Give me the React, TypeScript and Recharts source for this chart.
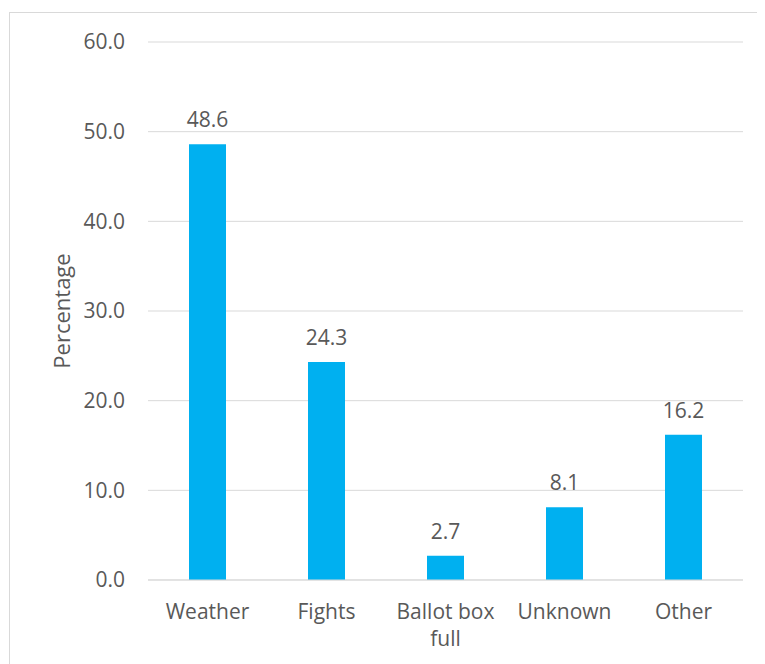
import React from "react";
import { BarChart, Bar, XAxis, YAxis, CartesianGrid, LabelList } from "recharts";

const categories = ["Weather", "Fights", "Ballot box full", "Unknown", "Other"];
const percentages = [48.6, 24.3, 2.7, 8.1, 16.2];
const yTicks = [0, 10, 20, 30, 40, 50, 60];

const tickLines: Record<string, string[]> = {
  "Ballot box full": ["Ballot box", "full"],
};

const data = categories.map((name, i) => ({ name, value: percentages[i] }));

const FONT = "'Open Sans', sans-serif";
const TEXT = "#595959";
const GRID = "#d9d9d9";
const SIZE = 21;

const XTick = (props: any) => {
  const { x, y, payload } = props;
  const lines = tickLines[payload.value] ?? [payload.value];
  return (
    <text x={x} y={y} textAnchor="middle" fill={TEXT} fontSize={SIZE} fontFamily={FONT}>
      {lines.map((line, i) => (
        <tspan key={i} x={x} dy={i === 0 ? 39 : 27}>
          {line}
        </tspan>
      ))}
    </text>
  );
};

const ValueLabel = (props: any) => {
  const { x, y, width, value } = props;
  return (
    <text
      x={x + width / 2}
      y={y - 17}
      textAnchor="middle"
      fill={TEXT}
      fontSize={SIZE}
      fontFamily={FONT}
    >
      {Number(value).toFixed(1)}
    </text>
  );
};

const YLabel = (props: any) => {
  const { viewBox } = props;
  const cy = viewBox.y + viewBox.height / 2;
  const lx = 53;
  return (
    <text
      x={lx}
      y={cy}
      transform={`rotate(-90, ${lx}, ${cy})`}
      textAnchor="middle"
      dominantBaseline="central"
      fill={TEXT}
      fontSize={22}
      fontFamily={FONT}
    >
      Percentage
    </text>
  );
};

export default function App() {
  return (
    <div style={{ position: "relative", width: 757, height: 656, overflow: "hidden" }}>
      <div
        style={{
          position: "absolute",
          left: 1,
          top: 4,
          width: 800,
          height: 700,
          border: `1px solid ${GRID}`,
          boxSizing: "border-box",
        }}
      />
      <div style={{ position: "absolute", left: 0, top: 0 }}>
        <BarChart
          width={757}
          height={656}
          data={data}
          margin={{ top: 34, right: 22, left: 0, bottom: 54 }}
        >
          <CartesianGrid vertical={false} stroke={GRID} strokeWidth={1} />
          <XAxis
            dataKey="name"
            height={30}
            axisLine={{ stroke: GRID }}
            tickLine={false}
            tick={<XTick />}
            interval={0}
            tickSize={0}
            tickMargin={0}
          />
          <YAxis
            width={140}
            domain={[0, 60]}
            ticks={yTicks}
            axisLine={false}
            tickLine={false}
            tickSize={0}
            tickMargin={23}
            tickFormatter={(v: number) => v.toFixed(1)}
            tick={{ fill: TEXT, fontSize: SIZE, fontFamily: FONT }}
            label={<YLabel />}
          />
          <Bar dataKey="value" fill="#00B0F0" barSize={37} isAnimationActive={false}>
            <LabelList dataKey="value" content={<ValueLabel />} />
          </Bar>
        </BarChart>
      </div>
    </div>
  );
}
